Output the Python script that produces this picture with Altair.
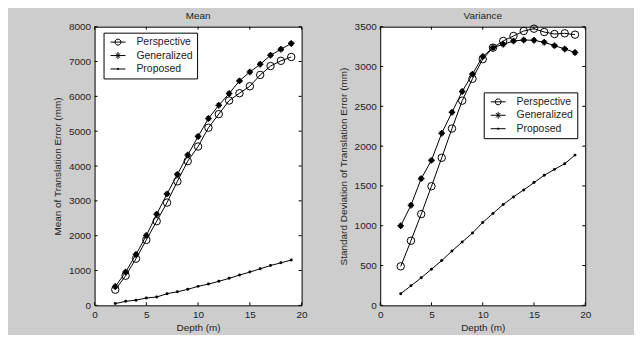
import altair as alt
import pandas as pd

depth = list(range(2, 20))
series = ["Perspective", "Generalized", "Proposed"]

mean_perspective = [450, 850, 1340, 1880, 2415, 2950, 3560, 4140, 4560, 5100,
                    5490, 5880, 6090, 6290, 6615, 6870, 7020, 7130]
mean_generalized = [540, 955, 1460, 2005, 2615, 3200, 3760, 4315, 4850, 5365,
                    5745, 6080, 6445, 6700, 6920, 7180, 7350, 7520]
mean_proposed = [50, 115, 150, 210, 240, 335, 390, 460, 545, 610,
                 690, 775, 870, 955, 1050, 1145, 1220, 1300]

std_perspective = [490, 812, 1146, 1496, 1854, 2221, 2571, 2846, 3092, 3237,
                   3321, 3383, 3446, 3475, 3433, 3408, 3417, 3400]
std_generalized = [1000, 1258, 1592, 1821, 2162, 2425, 2687, 2904, 3125, 3237,
                   3279, 3320, 3333, 3329, 3304, 3262, 3221, 3175]
std_proposed = [146, 246, 346, 454, 562, 683, 796, 908, 1042, 1154,
                1267, 1362, 1450, 1542, 1633, 1708, 1779, 1887]

x_ticks = [0, 5, 10, 15, 20]
mean_ticks = [0, 1000, 2000, 3000, 4000, 5000, 6000, 7000, 8000]
std_ticks = [0, 500, 1000, 1500, 2000, 2500, 3000, 3500]

FONT = "Liberation Sans"
TXT = "#222222"

LEGEND_PATHS = [
    "M-0.5,0H2.5M1.6,0A0.6,0.6 0 1,1 0.4,0A0.6,0.6 0 1,1 1.6,0",
    "M-0.5,0H2.5M1,-0.7V0.7M0.55,-0.45L1.45,0.45M0.55,0.45L1.45,-0.45",
    "M-0.5,0H2.5M1.15,0A0.15,0.15 0 1,1 0.85,0A0.15,0.15 0 1,1 1.15,0",
]
ASTERISK = "M-1,0H1M0,-1V1M-0.6,-0.6L0.6,0.6M-0.6,0.6L0.6,-0.6"


def panel(title, ytitle, p, g, r, ymax, yticks, width, lx, ly):
    rows = []
    for name, vals in zip(series, [p, g, r]):
        for d, v in zip(depth, vals):
            rows.append({"depth": d, "value": v, "series": name})
    df = pd.DataFrame(rows)
    xs = alt.Scale(domain=[0, 20], nice=False, zero=False)
    ys = alt.Scale(domain=[0, ymax], nice=False, zero=False)
    x_ax = alt.Axis(values=x_ticks, title="Depth (m)", ticks=False, domain=False, grid=False,
                    format="d", labelOverlap=False,
                    labelFont=FONT, labelFontSize=10, labelColor=TXT, labelPadding=4,
                    titleFont=FONT, titleFontSize=10, titleFontWeight="normal", titleColor=TXT,
                    titlePadding=3, labelFlush=False)
    y_ax = alt.Axis(values=yticks, title=ytitle, ticks=False, domain=False, grid=False,
                    format="d", labelOverlap=False,
                    labelFont=FONT, labelFontSize=10, labelColor=TXT, labelPadding=4,
                    titleFont=FONT, titleFontSize=10, titleFontWeight="normal", titleColor=TXT,
                    titlePadding=6, labelFlush=False)
    X = alt.X("depth:Q", scale=xs, axis=x_ax)
    Y = alt.Y("value:Q", scale=ys, axis=y_ax)
    XT = alt.X("t:Q", scale=xs, axis=x_ax)
    YT = alt.Y("t:Q", scale=ys, axis=y_ax)
    base = alt.Chart(df)
    line = base.mark_line(color="black", strokeWidth=1).encode(x=X, y=Y, detail="series:N")
    pts_p = base.transform_filter(alt.datum.series == "Perspective").mark_point(
        shape="circle", size=56, filled=False, color="black", opacity=1, strokeWidth=1
    ).encode(x=X, y=Y)
    pts_g = base.transform_filter(alt.datum.series == "Generalized").mark_point(
        shape=ASTERISK, size=42, filled=False, color="black", opacity=1, strokeWidth=1.6
    ).encode(x=X, y=Y)
    pts_r = base.transform_filter(alt.datum.series == "Proposed").mark_point(
        shape="circle", size=9, filled=True, color="black", opacity=1
    ).encode(x=X, y=Y)
    leg = base.transform_filter("datum.depth < 0").mark_point(
        filled=False, color="black", opacity=1, strokeWidth=1
    ).encode(
        x=X, y=Y,
        shape=alt.Shape("series:N", scale=alt.Scale(domain=series, range=LEGEND_PATHS),
                        legend=alt.Legend(orient="none", legendX=lx, legendY=ly, title=None,
                                          strokeColor="black", fillColor="white", padding=4,
                                          symbolSize=100, symbolStrokeWidth=1,
                                          symbolStrokeColor="black",
                                          labelExpr="datum.label + '   '",
                                          labelFont=FONT, labelFontSize=10.5, labelColor=TXT,
                                          labelOffset=18, rowPadding=2.5)),
    )
    xt = pd.DataFrame({"t": x_ticks})
    yt = pd.DataFrame({"t": yticks})
    tb = alt.Chart(xt).mark_rule(color="black", strokeWidth=1).encode(
        x=XT, y=alt.value(280), y2=alt.value(277))
    tt = alt.Chart(xt).mark_rule(color="black", strokeWidth=1).encode(
        x=XT, y=alt.value(0), y2=alt.value(3))
    tl = alt.Chart(yt).mark_rule(color="black", strokeWidth=1).encode(
        y=YT, x=alt.value(0), x2=alt.value(3))
    tr = alt.Chart(yt).mark_rule(color="black", strokeWidth=1).encode(
        y=YT, x=alt.value(width), x2=alt.value(width - 3))
    ttl = alt.Chart(pd.DataFrame({"title": [title]})).mark_text(
        font=FONT, fontSize=10, color=TXT, baseline="middle", align="center"
    ).encode(text="title:N", x=alt.value(width / 2), y=alt.value(-11))
    return alt.layer(line, pts_p, pts_g, pts_r, leg, tb, tt, tl, tr, ttl).properties(
        width=width, height=280,
    )


left = panel("Mean", "Mean of Translation Error (mm)", mean_perspective, mean_generalized,
             mean_proposed, 8000, mean_ticks, 208, 9, 6)
right = panel("Variance", "Standard Deviation of Translation Error (mm)", std_perspective,
              std_generalized, std_proposed, 3500, std_ticks, 206, 104, 66)

chart = alt.hconcat(left, right, spacing=29).resolve_scale(
    shape="independent", x="independent", y="independent"
).resolve_legend(shape="independent").properties(
    background="#cdcdcd",
    padding={"left": 44, "top": 1, "right": 42, "bottom": 1},
).configure_view(stroke="black", strokeWidth=1, fill="white")

chart.save("out.html", embed_options={"renderer": "svg", "actions": False})
